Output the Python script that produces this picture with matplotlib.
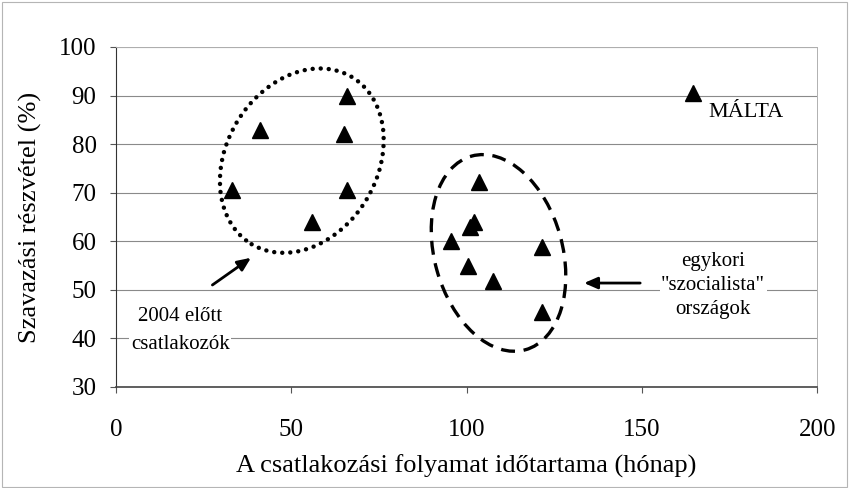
import matplotlib
matplotlib.use("Agg")
import matplotlib.pyplot as plt
from matplotlib.patches import Ellipse
from matplotlib.transforms import ScaledTranslation

# data: accession duration (months) vs turnout (%)
early_months = [33, 41, 56, 65, 66, 66]
early_turnout = [70.5, 83, 64, 82, 90, 70.5]

socialist_months = [95.5, 100.5, 101, 102, 103.5, 107.5, 121.5, 121.5]
socialist_turnout = [60, 55, 63, 64, 72.2, 51.8, 58.8, 45.5]

malta_months = [164.5]
malta_turnout = [90.5]

x_ticks = [0, 50, 100, 150, 200]
y_ticks = [30, 40, 50, 60, 70, 80, 90, 100]

plt.rcParams['font.family'] = ['Liberation Serif', 'DejaVu Serif']

fig = plt.figure(figsize=(8.49, 4.88), dpi=100)
ax = fig.add_axes([0.1366, 0.207, 0.826, 0.6967])

ax.set_xlim(0, 200)
ax.set_ylim(30, 100)
ax.set_xticks(x_ticks)
ax.set_yticks(y_ticks)
ax.tick_params(axis='both', labelsize=18, length=4, color='#555555')
ax.tick_params(axis='x', pad=19)
ax.tick_params(axis='y', pad=10)

ax.grid(axis='y', color='#8a8a8a', linewidth=0.8)
ax.set_axisbelow(True)
for side in ['top', 'right']:
    ax.spines[side].set_color('#b0b0b0')
    ax.spines[side].set_linewidth(0.7)
ax.spines['left'].set_color('#333333')
ax.spines['bottom'].set_color('#444444')
ax.spines['bottom'].set_linewidth(1.2)

all_x = early_months + socialist_months + malta_months
all_y = early_turnout + socialist_turnout + malta_turnout
ax.plot(all_x, all_y, linestyle='none', marker='^', markersize=11.5,
        color='black', zorder=3)

ax.set_xlabel('A csatlakozási folyamat időtartama (hónap)', fontsize=19, labelpad=10)
ax.set_ylabel('Szavazási részvétel (%)', fontsize=19, labelpad=12)


def ring(center, w_in, h_in, angle, style, lw, cap='butt'):
    # size in inches, centre in data units
    trans = fig.dpi_scale_trans + ScaledTranslation(center[0], center[1], ax.transData)
    e = Ellipse((0, 0), w_in, h_in, angle=angle, transform=trans,
                fill=False, edgecolor='black', linewidth=lw, linestyle=style,
                capstyle=cap, zorder=2)
    ax.add_patch(e)


ring((53.0, 76.6), 1.51, 1.95, -31, (0, (0.01, 1.8)), 3.2, cap='round')
ring((109.1, 57.6), 1.28, 2.01, 15.5, (0, (4.2, 2.6)), 2.4)

arrow = dict(arrowstyle='-|>,head_length=0.8,head_width=0.35', color='black',
             linewidth=2, shrinkA=0, shrinkB=0)
ax.annotate('', xy=(38.5, 56.6), xytext=(27.5, 51.0), arrowprops=arrow)
ax.annotate('', xy=(133.5, 51.4), xytext=(149.5, 51.4), arrowprops=arrow)

ax.text(18.3, 41.6, '2004 előtt\ncsatlakozók', fontsize=15, ha='center',
        va='center', linespacing=1.6,
        bbox=dict(facecolor='white', edgecolor='none', pad=1))
ax.text(170.3, 50.9, 'egykori\n"szocialista"\nországok', fontsize=15,
        ha='center', va='center', linespacing=1.35,
        bbox=dict(facecolor='white', edgecolor='none', pad=1))
ax.text(168.9, 86.6, 'MÁLTA', fontsize=16, ha='left', va='center')

# outer frame of the figure
fig.patches.append(plt.Rectangle((0.002, 0.002), 0.996, 0.994, transform=fig.transFigure,
                                 fill=False, edgecolor='#b5b5b5', linewidth=0.8))

fig.savefig('out.png', dpi=100)
